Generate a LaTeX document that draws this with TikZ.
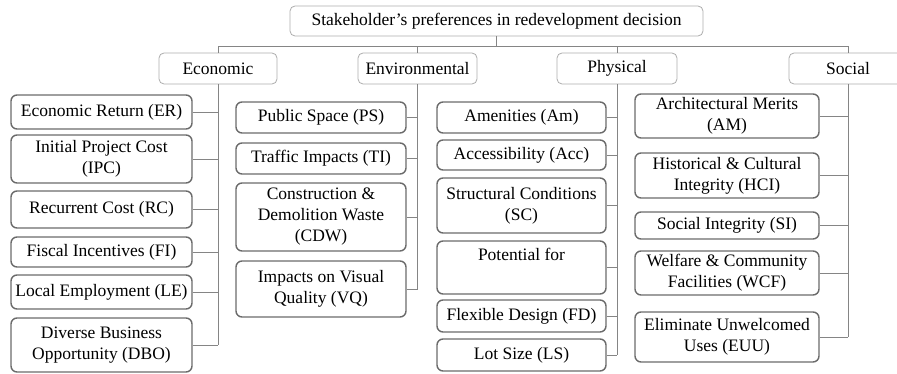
\documentclass[tikz,border=0pt]{standalone}
\usepackage{fontspec}
\setmainfont{Liberation Serif}
\begin{document}
\begin{tikzpicture}[x=1pt,y=1pt,
  every node/.style={font=\rmfamily\fontsize{17.5}{21}\selectfont, text=black, align=center, inner sep=0pt},
  headbox/.style={draw=black!32, line width=0.8pt, rounded corners=5pt, fill=white},
  catbox/.style={headbox, minimum height=31pt},
  leaf/.style={draw=black!58, line width=1.4pt, rounded corners=6pt, fill=white},
  econleaf/.style={leaf, minimum width=181pt},
  envleaf/.style={leaf, minimum width=170pt},
  physleaf/.style={leaf, minimum width=169pt},
  socleaf/.style={leaf, minimum width=184pt},
  link/.style={draw=black!48, line width=0.9pt}
]
\useasboundingbox (0,0) rectangle (897,-374);

% root
\node[headbox, minimum width=413pt, minimum height=30pt] (root) at (496.5,-21) {Stakeholder’s preferences in redevelopment decision};
\coordinate (bus) at (496.5,-46);

% categories
\node[catbox, minimum width=118pt] (econ) at (218,-68.5) {Economic};
\node[catbox, minimum width=119pt] (env)  at (417.5,-68.5) {Environmental};
\node[catbox, minimum width=120pt] (phys) at (617,-68.5) {Physical};
\node[catbox, minimum width=118pt] (soc)  at (848,-68.5) {Social};

% economic criteria
\node[econleaf, minimum height=34pt] (er)  at (101.5,-112) {Economic Return (ER)};
\node[econleaf, minimum height=48pt] (ipc) at (101.5,-159) {Initial Project Cost\\(IPC)};
\node[econleaf, minimum height=37pt] (rc)  at (101.5,-209.5) {Recurrent Cost (RC)};
\node[econleaf, minimum height=30pt] (fi)  at (101.5,-252) {Fiscal Incentives (FI)};
\node[econleaf, minimum height=34pt] (le)  at (101.5,-292) {Local Employment (LE)};
\node[econleaf, minimum height=54pt] (dbo) at (101.5,-345) {Diverse Business\\Opportunity (DBO)};

% environmental criteria
\node[envleaf, minimum height=31pt] (ps)  at (321,-117.5) {Public Space (PS)};
\node[envleaf, minimum height=31pt] (ti)  at (321,-158.5) {Traffic Impacts (TI)};
\node[envleaf, minimum height=68pt] (cdw) at (321,-217) {Construction \&\\Demolition Waste\\(CDW)};
\node[envleaf, minimum height=56pt] (vq)  at (321,-289) {Impacts on Visual\\Quality (VQ)};

% physical criteria
\node[physleaf, minimum height=31pt] (am)  at (521.5,-117.5) {Amenities (Am)};
\node[physleaf, minimum height=30pt] (acc) at (521.5,-155) {Accessibility (Acc)};
\node[physleaf, minimum height=55pt] (sc)  at (521.5,-205.5) {Structural Conditions\\(SC)};
\node[physleaf, minimum height=53pt] (pf)  at (521.5,-267.5) {Potential for\\[5pt]~};
\node[physleaf, minimum height=32pt] (fd)  at (521.5,-316) {Flexible Design (FD)};
\node[physleaf, minimum height=32pt] (ls)  at (521.5,-355) {Lot Size (LS)};

% social criteria
\node[socleaf, minimum height=44pt] (amr) at (727,-116) {Architectural Merits\\(AM)};
\node[socleaf, minimum height=45pt] (hci) at (727,-175.5) {Historical \& Cultural\\Integrity (HCI)};
\node[socleaf, minimum height=27pt] (si)  at (727,-225.5) {Social Integrity (SI)};
\node[socleaf, minimum height=44pt] (wcf) at (727,-273) {Welfare \& Community\\Facilities (WCF)};
\node[socleaf, minimum height=50pt] (euu) at (727,-337) {Eliminate Unwelcomed\\Uses (EUU)};

% root to categories
\draw[link] (root.south) -- (bus);
\draw[link] (econ.north) -- (econ.north |- bus) -- (soc.north |- bus) -- (soc.north);
\draw[link] (env.north) -- (env.north |- bus);
\draw[link] (phys.north) -- (phys.north |- bus);

% trunks
\draw[link] (econ.south) -- (econ.south |- dbo.east);
\draw[link] (env.south) -- (env.south |- vq.east);
\draw[link] (phys.south) -- (phys.south |- ls.east);
\draw[link] (soc.south) -- (soc.south |- euu.east);

% branches
\foreach \n in {er,ipc,rc,fi,le,dbo} \draw[link] (\n.east) -- (\n.east -| econ.south);
\foreach \n in {ps,ti,cdw,vq} \draw[link] (\n.east) -- (\n.east -| env.south);
\foreach \n in {am,acc,sc,pf,fd,ls} \draw[link] (\n.east) -- (\n.east -| phys.south);
\foreach \n in {amr,hci,si,wcf,euu} \draw[link] (\n.east) -- (\n.east -| soc.south);
\end{tikzpicture}
\end{document}
